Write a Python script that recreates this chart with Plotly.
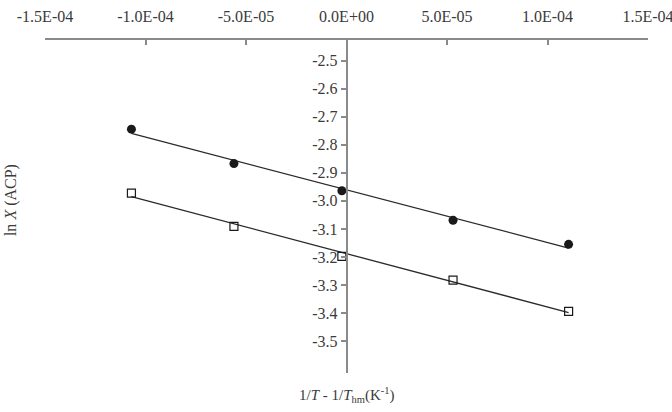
import numpy as np
import plotly.graph_objects as go

# Data
x_vals = [-1.07e-4, -5.6e-5, -2.3e-6, 5.3e-5, 1.105e-4]
y_circles = [-2.744, -2.867, -2.964, -3.069, -3.155]
y_squares = [-2.972, -3.091, -3.198, -3.283, -3.394]

x_tickvals = [-1.5e-4, -1.0e-4, -5.0e-5, 0.0, 5.0e-5, 1.0e-4, 1.5e-4]
x_ticktext = ["-1.5E-04", "-1.0E-04", "-5.0E-05", "0.0E+00", "5.0E-05", "1.0E-04", "1.5E-04"]
y_tickvals = [-2.5, -2.6, -2.7, -2.8, -2.9, -3.0, -3.1, -3.2, -3.3, -3.4, -3.5]
y_ticktext = ["%.1f" % v for v in y_tickvals]

FONT = "Liberation Serif"
AXC = "#8a8a8a"
TXT = "#3a3a3a"

fig = go.Figure()

xs = np.array(x_vals)
xl = np.array([xs.min(), xs.max()])
for ys in (y_circles, y_squares):
    m, c = np.polyfit(xs, np.array(ys), 1)
    fig.add_trace(go.Scatter(x=xl, y=m * xl + c, mode="lines",
                             line=dict(color="#2a2a2a", width=1.3),
                             showlegend=False, hoverinfo="skip"))

fig.add_trace(go.Scatter(x=x_vals, y=y_circles, mode="markers",
                         marker=dict(symbol="circle", size=9, color="#1a1a1a",
                                     line=dict(width=0)),
                         showlegend=False))
fig.add_trace(go.Scatter(x=x_vals, y=y_squares, mode="markers",
                         marker=dict(symbol="square-open", size=8, color="#1a1a1a",
                                     line=dict(width=1.2)),
                         showlegend=False))

fig.update_layout(
    width=672, height=412,
    margin=dict(l=45, r=24, t=40, b=39, autoexpand=False),
    paper_bgcolor="white", plot_bgcolor="white",
    font=dict(family=FONT, size=16, color=TXT),
    xaxis=dict(side="top", range=[-1.5e-4, 1.5e-4], tickvals=x_tickvals,
               ticktext=x_ticktext, ticks="inside", ticklen=5, tickwidth=1.5,
               tickcolor=AXC, showline=True, linecolor=AXC, linewidth=1.5,
               showgrid=False, zeroline=False, ticklabelstandoff=10,
               ticklabeloverflow="allow", automargin=False,
               tickfont=dict(family=FONT, size=16, color=TXT)),
    yaxis=dict(anchor="free", position=0.5, range=[-3.614, -2.426],
               tickvals=y_tickvals, ticktext=y_ticktext, ticks="outside",
               ticklen=5, tickwidth=1.5, tickcolor=AXC, showline=True,
               linecolor=AXC, linewidth=1.5, showgrid=False, zeroline=False,
               automargin=False,
               tickfont=dict(family=FONT, size=16, color=TXT)),
    annotations=[
        dict(text="ln <i>X</i> (ACP)", xref="paper", yref="paper",
             x=-0.056, y=0.52, textangle=-90, showarrow=False,
             xanchor="center", yanchor="middle",
             font=dict(family=FONT, size=16, color=TXT)),
        dict(text="1/<i>T</i> - 1/<i>T</i><sub>hm</sub>(K<sup>-1</sup>)",
             xref="paper", yref="paper", x=0.5, y=-0.066, showarrow=False,
             xanchor="center", yanchor="middle",
             font=dict(family=FONT, size=15, color=TXT)),
    ],
)

fig.write_html("out.html")
